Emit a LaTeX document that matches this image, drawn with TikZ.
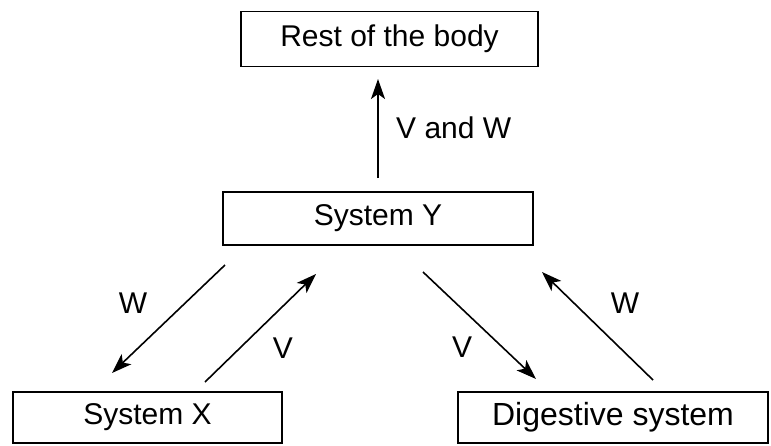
\documentclass[tikz,border=0pt]{standalone}
\usepackage{fontspec}
\setmainfont{Liberation Sans}
\usetikzlibrary{arrows.meta}
\begin{document}
\begin{tikzpicture}[x=1pt,y=-1pt,
  sysbox/.style={draw,line width=1.8pt,inner sep=0pt,font=\fontsize{30}{36}\selectfont},
  flow/.style={line width=1.6pt,-{Stealth[length=20pt,width=14pt,inset=5pt]}},
  lbl/.style={font=\fontsize{30}{36}\selectfont,inner sep=0pt}]
\useasboundingbox (0,0) rectangle (771,445);
\node[sysbox,minimum width=297pt,minimum height=55pt] (rest) at (389.5,39) {Rest of the body};
\node[sysbox,minimum width=310pt,minimum height=53pt] (sysy) at (378,218.5) {System Y};
\node[sysbox,minimum width=269pt,minimum height=51pt] (sysx) at (147.5,417.5) {System X};
\node[sysbox,minimum width=310pt,minimum height=51pt,font=\fontsize{32}{38}\selectfont] (dig) at (613,417.5) {Digestive system};
% arrow end points
\coordinate (up1) at (378,178);
\coordinate (up2) at (378,79);
\coordinate (wl1) at (225,265);
\coordinate (wl2) at (112,373);
\coordinate (vl1) at (205,382);
\coordinate (vl2) at (316,274);
\coordinate (vr1) at (423,272);
\coordinate (vr2) at (536,379);
\coordinate (wr1) at (653,380);
\coordinate (wr2) at (542,272);
\draw[flow] (up1) -- (up2);
\draw[flow] (wl1) -- (wl2);
\draw[flow] (vl1) -- (vl2);
\draw[flow] (vr1) -- (vr2);
\draw[flow] (wr1) -- (wr2);
\node[lbl,anchor=west] (lvw) at (396,128) {V and W};
\node[lbl] (lwl) at (133,303) {W};
\node[lbl] (lvl) at (283,348) {V};
\node[lbl] (lvr) at (462,347) {V};
\node[lbl] (lwr) at (625,303) {W};
\end{tikzpicture}
\end{document}
